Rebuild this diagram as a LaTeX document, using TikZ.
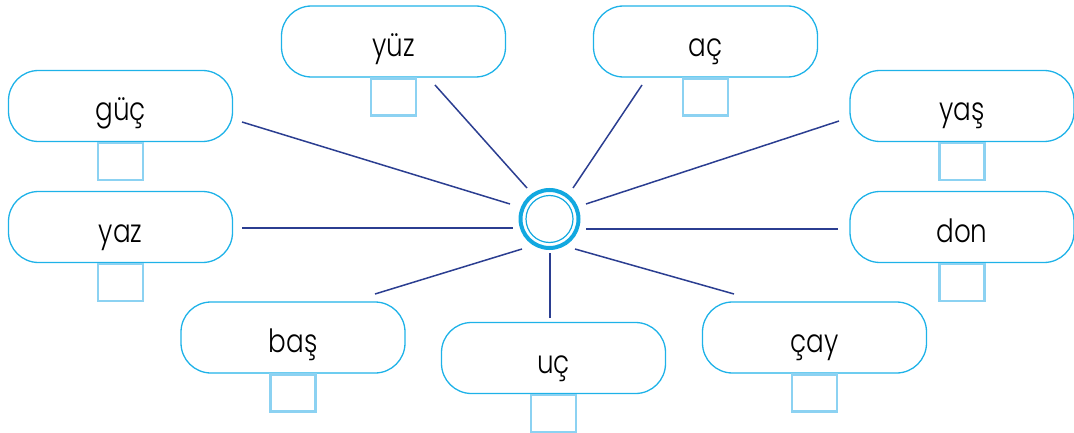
\documentclass[tikz,border=0pt]{standalone}
\usepackage{fontspec}
\newfontfamily\wordfont[FakeStretch=0.82]{Poppins Light}
\definecolor{boxblue}{RGB}{30,178,232}
\definecolor{tickblue}{RGB}{140,210,242}
\definecolor{spokeblue}{RGB}{43,62,145}
\definecolor{ringblue}{RGB}{18,168,224}
\begin{document}
\begin{tikzpicture}[x=1pt,y=-1pt,
  wordbox/.style={draw=boxblue, line width=1.3pt, rounded corners=30pt,
    minimum width=224pt, minimum height=71pt, inner sep=0pt},
  tickbox/.style={draw=tickblue, line width=2.8pt, minimum width=45pt,
    minimum height=37pt, inner sep=0pt, anchor=north},
  word/.style={font=\wordfont\fontsize{32}{38}\selectfont, anchor=base,
    inner sep=0pt, text=black},
  spoke/.style={draw=spokeblue, line width=1.5pt}]
\useasboundingbox (0,0) rectangle (1074,433);

% word boxes with an answer square under each
\foreach \n/\x/\y/\w in {guc/120.5/106/güç, yaz/120.5/227/yaz, yuz/393.5/41.5/yüz,
    ac/705.5/41.5/aç, yas/962/106/yaş, don/962/227/don,
    bas/293/337.5/baş, uc/553.5/358/uç, cay/814.5/337.5/çay}{
  \node[wordbox] (\n) at (\x,\y) {};
  \node[word] (\n-t) at ([yshift=-15pt]\n.center) {\w};
  \node[tickbox] (\n-sq) at ([yshift=0.6pt]\n.south) {};
}

% central double ring
\node[circle, draw=ringblue, line width=4pt, minimum size=58pt, inner sep=0pt] (hub) at (549.5,219) {};
\node[circle, draw=ringblue, line width=1.2pt, minimum size=47pt, inner sep=0pt] (hubin) at (hub) {};

% spoke end points
\coordinate (s-guc) at (242,122);  \coordinate (h-guc) at (510,204);
\coordinate (s-yaz) at (242,228);  \coordinate (h-yaz) at (513,228);
\coordinate (s-yuz) at (435,85);   \coordinate (h-yuz) at (527,188);
\coordinate (s-ac)  at (642,85);   \coordinate (h-ac)  at (573,188);
\coordinate (s-yas) at (839,121);  \coordinate (h-yas) at (586,204);
\coordinate (s-don) at (838,229);  \coordinate (h-don) at (586,229);
\coordinate (s-bas) at (375,294);  \coordinate (h-bas) at (522,249);
\coordinate (s-uc)  at (550,318);  \coordinate (h-uc)  at (550,253);
\coordinate (s-cay) at (734,294);  \coordinate (h-cay) at (575,249);

\foreach \n in {guc,yaz,yuz,ac,yas,don,bas,uc,cay}
  \draw[spoke] (s-\n) -- (h-\n);
\end{tikzpicture}
\end{document}
